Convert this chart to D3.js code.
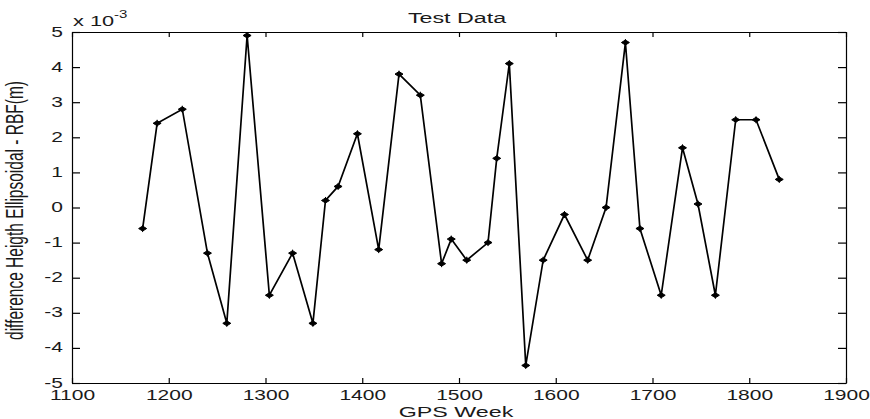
<!DOCTYPE html>
<html>
<head>
<meta charset="utf-8">
<script src="https://cdn.jsdelivr.net/npm/d3@7"></script>
<style>
  body { margin: 0; background: #fff; }
  svg text { font-family: "Liberation Sans", Arial, Helvetica, sans-serif; fill: #1a1a1a; }
</style>
</head>
<body>
<div id="chart"></div>
<script>
// GPS week vs. height difference (units of 1e-3 m)
const weeks = [1173, 1188, 1214, 1240, 1260, 1281, 1304, 1328, 1349, 1362,
               1375, 1395, 1417, 1438, 1460, 1482, 1492, 1508, 1530, 1539,
               1552, 1569, 1587, 1609, 1633, 1652, 1672, 1687, 1709, 1731,
               1747, 1765, 1786, 1807, 1831];
const diffs = [-0.6, 2.4, 2.8, -1.3, -3.3, 4.9, -2.5, -1.3, -3.3, 0.2,
                0.6, 2.1, -1.2, 3.8, 3.2, -1.6, -0.9, -1.5, -1.0, 1.4,
                4.1, -4.5, -1.5, -0.2, -1.5, 0.0, 4.7, -0.6, -2.5, 1.7,
                0.1, -2.5, 2.5, 2.5, 0.8];

const xTicks = [1100, 1200, 1300, 1400, 1500, 1600, 1700, 1800, 1900];
const yTicks = [-5, -4, -3, -2, -1, 0, 1, 2, 3, 4, 5];

const title = "Test Data";
const xLabel = "GPS Week";
const yLabel = "difference Heigth Ellipsoidal - RBF(m)";

const width = 870, height = 419;
const plotLeft = 72, plotRight = 846, plotTop = 32, plotBottom = 383;
const stretch = 1.5; // the original picture is widened horizontally

const svg = d3.select("#chart").append("svg")
      .attr("width", width)
      .attr("height", height);

svg.append("rect").attr("width", width).attr("height", height).attr("fill", "#fff");

const x = d3.scaleLinear().domain([1100, 1900]).range([plotLeft, plotRight]);
const y = d3.scaleLinear().domain([-5, 5]).range([plotBottom, plotTop]);

const stretchText = (sel, dx, dy) =>
      sel.attr("x", null).attr("y", null).attr("dy", null)
         .attr("transform", `translate(${dx},${dy}) scale(${stretch},1)`);

// axes, ticks pointing inward on all four sides
const xAxis = svg.append("g")
      .attr("transform", `translate(0,${plotBottom})`)
      .call(d3.axisBottom(x).tickValues(xTicks).tickSize(-5).tickSizeOuter(0)
            .tickFormat(d => String(d)));
xAxis.selectAll("text")
  .call(stretchText, 0, 17)
  .attr("font-size", 14)
  .attr("text-anchor", "middle");

const yAxis = svg.append("g")
      .attr("transform", `translate(${plotLeft},0)`)
      .call(d3.axisLeft(y).tickValues(yTicks).tickSize(-8).tickSizeOuter(0)
            .tickFormat(d => String(d)));
yAxis.selectAll("text")
  .call(stretchText, -9, 4)
  .attr("font-size", 14)
  .attr("text-anchor", "end");

svg.append("g")
  .attr("transform", `translate(0,${plotTop})`)
  .call(d3.axisTop(x).tickValues(xTicks).tickSize(-5).tickSizeOuter(0).tickFormat(""));

svg.append("g")
  .attr("transform", `translate(${plotRight},0)`)
  .call(d3.axisRight(y).tickValues(yTicks).tickSize(-8).tickSizeOuter(0).tickFormat(""));

svg.selectAll(".domain, .tick line").attr("stroke", "#000").attr("stroke-width", 1.2);

// series
const points = weeks.map((w, i) => ({week: w, diff: diffs[i]}));

svg.append("path")
  .datum(points)
  .attr("fill", "none")
  .attr("stroke", "#000")
  .attr("stroke-width", 1.7)
  .attr("d", d3.line().x(d => x(d.week)).y(d => y(d.diff)));

svg.selectAll(".marker")
  .data(points)
  .enter()
  .append("path")
  .attr("class", "marker")
  .attr("transform", d => `translate(${x(d.week)},${y(d.diff)})`)
  .attr("d", "M-4,0L0,-2.5L4,0L0,2.5Z M0,-3.5V3.5")
  .attr("fill", "#000")
  .attr("stroke", "#000")
  .attr("stroke-width", 1);

// labels
svg.append("text")
  .call(stretchText, (plotLeft + plotRight) / 2 - 2, 23)
  .attr("text-anchor", "middle")
  .attr("font-size", 15.5)
  .text(title);

svg.append("text")
  .call(stretchText, (plotLeft + plotRight) / 2 - 3, 417)
  .attr("text-anchor", "middle")
  .attr("font-size", 15.5)
  .text(xLabel);

svg.append("text")
  .attr("text-anchor", "middle")
  .attr("font-size", 15.5)
  .attr("transform", `translate(23,${(plotTop + plotBottom) / 2 + 3}) scale(${stretch},1) rotate(-90)`)
  .text(yLabel);

const expo = svg.append("text")
  .attr("transform", `translate(73,26) scale(${stretch},1)`)
  .attr("font-size", 14.5);
expo.append("tspan").text("x 10");
expo.append("tspan").attr("font-size", 10).attr("dy", -8).text("-3");
</script>
</body>
</html>
